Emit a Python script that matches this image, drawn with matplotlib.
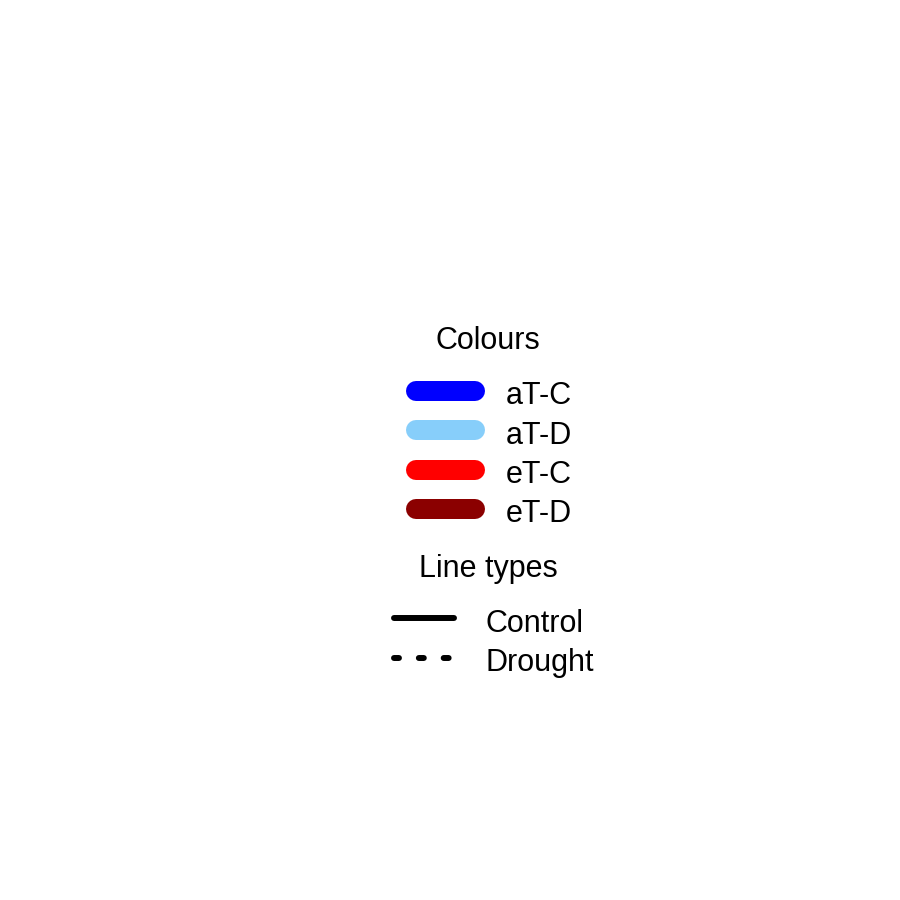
import matplotlib
matplotlib.use("Agg")
import matplotlib.pyplot as plt

plt.rcParams['font.family'] = ['Liberation Sans', 'DejaVu Sans']

colour_title = "Colours"
colour_labels = ["aT-C", "aT-D", "eT-C", "eT-D"]
colour_values = ["#0000FF", "#87CEFA", "#FF0000", "#8B0000"]
linetype_title = "Line types"
linetype_labels = ["Control", "Drought"]
linetype_styles = ["solid", (0, (0.83, 3.33))]

fig = plt.figure(figsize=(9, 9), dpi=100)
ax = fig.add_axes([0, 0, 1, 1])
ax.set_xlim(0, 900)
ax.set_ylim(900, 0)
ax.axis("off")

fs = 22
text_drop = 13.5  # baseline offset below key centre

# Colours legend
ax.text(487.5, 349, colour_title, fontsize=fs, ha="center", va="baseline")
y0, dy = 390.5, 39.5
for i, (lab, col) in enumerate(zip(colour_labels, colour_values)):
    y = y0 + i * dy
    ax.plot([416, 475], [y, y], color=col, lw=14.4, solid_capstyle="round")
    ax.text(505.5, y + text_drop, lab, fontsize=fs, ha="left", va="baseline")

# Line types legend
ax.text(488, 576.5, linetype_title, fontsize=fs, ha="center", va="baseline")
y1, dy1 = 618, 39.5
for i, (lab, ls) in enumerate(zip(linetype_labels, linetype_styles)):
    y = y1 + i * dy1
    ax.plot([394, 454], [y, y], color="black", lw=4.3, linestyle=ls,
            solid_capstyle="round", dash_capstyle="round")
    ax.text(485.5, y + text_drop, lab, fontsize=fs, ha="left", va="baseline")

fig.savefig("out.png", dpi=100, facecolor="white")
